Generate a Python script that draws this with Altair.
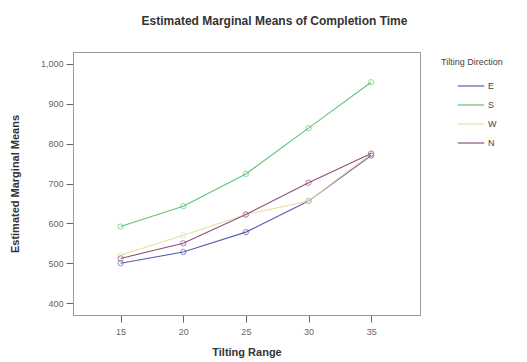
import altair as alt
import pandas as pd

ranges = [15, 20, 25, 30, 35]
directions = ["E", "S", "W", "N"]
vals_E = [500, 528, 578, 656, 770]
vals_S = [592, 643, 724, 839, 954]
vals_W = [520, 570, 622, 656, 775]
vals_N = [512, 550, 622, 702, 775]
colors = ["#5b5bb0", "#62c27a", "#eadf9e", "#8e4f7e"]

rows = []
for d, vals in zip(directions, [vals_E, vals_S, vals_W, vals_N]):
    for r, v in zip(ranges, vals):
        rows.append({"range": r, "direction": d, "value": v})
df = pd.DataFrame(rows)

font = "Liberation Sans"

x = alt.X("range:Q", title="Tilting Range",
          scale=alt.Scale(domain=[11.2, 38.9], nice=False, zero=False),
          axis=alt.Axis(values=ranges, grid=False, tickSize=7, labelFontSize=9,
                        labelPadding=5, labelColor="#666666", titleFontSize=11,
                        titleFontWeight="bold", titleColor="#333333", titlePadding=10,
                        domainColor="#999999", tickColor="#666666"))
y = alt.Y("value:Q", title="Estimated Marginal Means",
          scale=alt.Scale(domain=[370, 1030], nice=False, zero=False),
          axis=alt.Axis(values=[400, 500, 600, 700, 800, 900, 1000], format=",.0f",
                        grid=False, tickSize=7, labelPadding=3, labelFontSize=9,
                        labelColor="#666666", titleFontSize=11, titleFontWeight="bold",
                        titleColor="#333333", titlePadding=20, domainColor="#999999",
                        tickColor="#666666"))
color = alt.Color("direction:N", sort=directions,
                  scale=alt.Scale(domain=directions, range=colors),
                  legend=alt.Legend(title="Tilting Direction", orient="none",
                                    legendX=368, legendY=6, symbolType="stroke",
                                    symbolSize=700, symbolStrokeWidth=1.2,
                                    symbolOffset=16, labelOffset=3,
                                    titleFontSize=9, titleFontWeight="normal",
                                    titleColor="#444444", labelFontSize=9,
                                    labelColor="#444444", rowPadding=0))

base = alt.Chart(df)
lines = base.mark_line(strokeWidth=1.1).encode(x=x, y=y, color=color)
points = base.mark_point(size=28, filled=False, strokeWidth=1).encode(
    x=x, y=y, color=alt.Color("direction:N", sort=directions,
                              scale=alt.Scale(domain=directions, range=colors),
                              legend=None))

chart = (lines + points).properties(
    width=347, height=263,
    title=alt.TitleParams("Estimated Marginal Means of Completion Time",
                          fontSize=12, fontWeight="bold", color="#333333",
                          anchor="middle", dx=28, offset=24, font=font),
    autosize=alt.AutoSizeParams(type="none"),
    padding={"left": 73, "top": 52, "right": 107, "bottom": 47},
).configure(font=font).configure_view(stroke="#999999", strokeWidth=1)

chart.save("out.html", embed_options={"renderer": "svg", "actions": False})
